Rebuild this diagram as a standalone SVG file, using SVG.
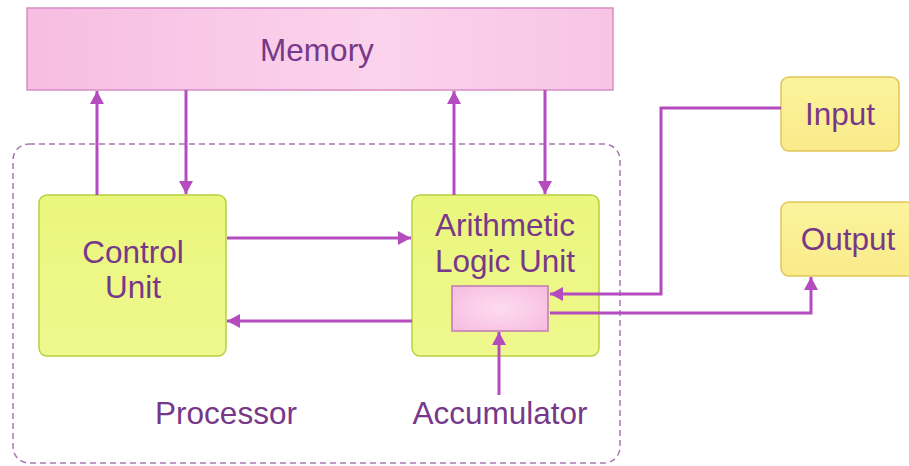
<svg xmlns="http://www.w3.org/2000/svg" width="909" height="466" viewBox="0 0 909 466">
<defs>
<linearGradient id="gMem" x1="0" y1="0" x2="1" y2="0">
<stop offset="0" stop-color="#f7bde2"/><stop offset="0.6" stop-color="#fbd3ec"/><stop offset="1" stop-color="#f8c4e5"/>
</linearGradient>
<radialGradient id="gAcc" cx="0.5" cy="0.5" r="0.7">
<stop offset="0" stop-color="#fddcef"/><stop offset="1" stop-color="#f7bbe0"/>
</radialGradient>
<linearGradient id="gUnit" x1="0" y1="0" x2="0" y2="1">
<stop offset="0" stop-color="#ebf67c"/><stop offset="1" stop-color="#eef88e"/>
</linearGradient>
<linearGradient id="gIO" x1="0" y1="0" x2="0" y2="1">
<stop offset="0" stop-color="#fbf39c"/><stop offset="1" stop-color="#faeb8a"/>
</linearGradient>
<marker id="ah" markerWidth="14" markerHeight="14" viewBox="0 0 14 14" refX="13" refY="7" orient="auto" markerUnits="userSpaceOnUse">
<path d="M0,0 L13,7 L0,14 Z" fill="#b44cbf"/>
</marker>
</defs>
<style>
text{font-family:"Liberation Sans",Arial,sans-serif;font-size:31.5px;fill:#773889;text-anchor:middle}
.unit{fill:url(#gUnit);stroke:#b8d040;stroke-width:1.5}
.io{fill:url(#gIO);stroke:#e0c558;stroke-width:1.5}
.c{fill:none;stroke:#b44cbf;stroke-width:3;marker-end:url(#ah)}
</style>
<rect width="909" height="466" fill="#ffffff"/>
<g id="processor">
<rect x="13" y="144" width="607" height="319" rx="16" fill="none" stroke="#a878b0" stroke-width="1.5" stroke-dasharray="6,4"/>
<text x="226" y="424">Processor</text>
</g>
<g id="memory">
<rect x="27" y="8" width="586" height="82" fill="url(#gMem)" stroke="#d88cc6" stroke-width="1.5"/>
<text x="317" y="61">Memory</text>
</g>
<g id="control-unit">
<rect class="unit" x="39" y="195" width="187" height="161" rx="8"/>
<text x="133" y="263">Control</text>
<text x="133" y="298">Unit</text>
</g>
<g id="alu">
<rect class="unit" x="412" y="195" width="187" height="161" rx="8"/>
<text x="505" y="236">Arithmetic</text>
<text x="505" y="272">Logic Unit</text>
</g>
<g id="accumulator">
<rect x="452" y="286" width="96" height="45" fill="url(#gAcc)" stroke="#c07ab0" stroke-width="1.5"/>
<text x="500" y="424">Accumulator</text>
</g>
<g id="input">
<rect class="io" x="781" y="77" width="118" height="74" rx="8"/>
<text x="840" y="125">Input</text>
</g>
<g id="output">
<rect class="io" x="781" y="202" width="134" height="74" rx="8"/>
<text x="848" y="250">Output</text>
</g>
<g id="connectors">
<line class="c" x1="97" y1="195" x2="97" y2="91"/>
<line class="c" x1="186" y1="90" x2="186" y2="194"/>
<line class="c" x1="454" y1="195" x2="454" y2="91"/>
<line class="c" x1="545" y1="90" x2="545" y2="194"/>
<line class="c" x1="227" y1="238" x2="411" y2="238"/>
<line class="c" x1="412" y1="321" x2="227" y2="321"/>
<polyline class="c" points="781,108 661,108 661,294 550,294"/>
<polyline class="c" points="550,313 811,313 811,277"/>
<line class="c" x1="499" y1="395" x2="499" y2="332"/>
</g>
</svg>
